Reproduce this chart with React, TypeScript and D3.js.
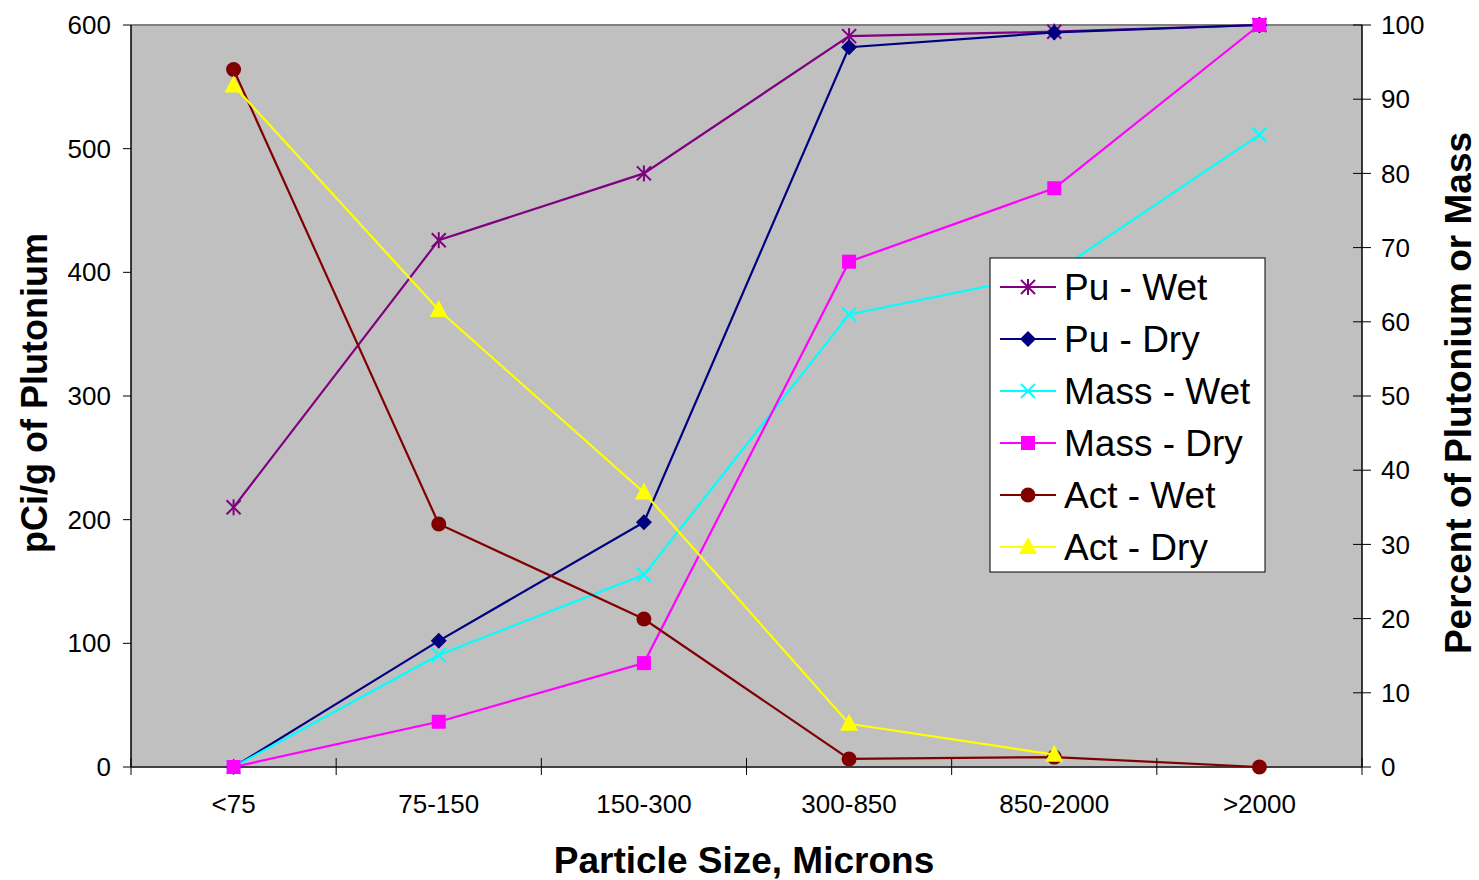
import React from 'react';
import * as d3 from 'd3';

const categories = ['<75', '75-150', '150-300', '300-850', '850-2000', '>2000'];

// percent series (right axis)
const puWet = [35, 71, 80, 98.5, 99.1, 100];
const puDry = [0, 17, 33, 97, 99, 100];
const massWet = [0, 15.1, 25.9, 61, 66.6, 85.2];
const massDry = [0, 6.1, 14, 68.1, 78, 100];
// pCi/g series (left axis)
const actWet = [564, 196.5, 119.7, 6.5, 8, 0];
const actDry: (number | null)[] = [551, 369.5, 222, 35, 10, null];

const leftTicks = [0, 100, 200, 300, 400, 500, 600];
const rightTicks = [0, 10, 20, 30, 40, 50, 60, 70, 80, 90, 100];

type Marker = 'star' | 'diamond' | 'x' | 'square' | 'circle' | 'triangle';

interface Series {
  name: string;
  values: (number | null)[];
  color: string;
  marker: Marker;
  axis: 'left' | 'right';
}

const series: Series[] = [
  { name: 'Pu - Wet', values: puWet, color: '#800080', marker: 'star', axis: 'right' },
  { name: 'Pu - Dry', values: puDry, color: '#000080', marker: 'diamond', axis: 'right' },
  { name: 'Mass - Wet', values: massWet, color: '#00FFFF', marker: 'x', axis: 'right' },
  { name: 'Mass - Dry', values: massDry, color: '#FF00FF', marker: 'square', axis: 'right' },
  { name: 'Act - Wet', values: actWet, color: '#800000', marker: 'circle', axis: 'left' },
  { name: 'Act - Dry', values: actDry, color: '#FFFF00', marker: 'triangle', axis: 'left' },
];

const plot = { left: 131, right: 1362, top: 25, bottom: 767 };
const font = 'Arial, "Liberation Sans", sans-serif';

function MarkerShape({ type, x, y, color }: { type: Marker; x: number; y: number; color: string }) {
  switch (type) {
    case 'star': {
      const s = 7;
      return (
        <g stroke={color} strokeWidth={2}>
          <line x1={x} y1={y - s - 1} x2={x} y2={y + s + 1} />
          <line x1={x - s} y1={y - s} x2={x + s} y2={y + s} />
          <line x1={x - s} y1={y + s} x2={x + s} y2={y - s} />
        </g>
      );
    }
    case 'x': {
      const s = 7;
      return (
        <g stroke={color} strokeWidth={2}>
          <line x1={x - s} y1={y - s} x2={x + s} y2={y + s} />
          <line x1={x - s} y1={y + s} x2={x + s} y2={y - s} />
        </g>
      );
    }
    case 'diamond': {
      const s = 8;
      return <path d={`M${x},${y - s}L${x + s},${y}L${x},${y + s}L${x - s},${y}Z`} fill={color} />;
    }
    case 'square':
      return <rect x={x - 7} y={y - 7} width={14} height={14} fill={color} />;
    case 'circle':
      return <circle cx={x} cy={y} r={7.5} fill={color} />;
    case 'triangle':
      return <path d={`M${x},${y - 10}L${x + 9},${y + 7}L${x - 9},${y + 7}Z`} fill={color} />;
  }
}

export default function App() {
  const x = d3.scalePoint<string>().domain(categories).range([plot.left, plot.right]).padding(0.5);
  const step = x.step();
  const yLeft = d3.scaleLinear().domain([0, 600]).range([plot.bottom, plot.top]);
  const yRight = d3.scaleLinear().domain([0, 100]).range([plot.bottom, plot.top]);

  const boundaries = d3.range(categories.length + 1).map((i) => plot.left + i * step);

  const legend = { x: 990, y: 258, w: 275, h: 314, row: 52 };

  return (
    <svg
      width={1479}
      height={880}
      style={{ position: 'absolute', left: 0, top: 0, background: '#fff' }}
      fontFamily={font}
    >
      <rect
        x={plot.left}
        y={plot.top}
        width={plot.right - plot.left}
        height={plot.bottom - plot.top}
        fill="#C0C0C0"
      />
      <line x1={plot.left} y1={plot.top} x2={plot.right} y2={plot.top} stroke="#808080" strokeWidth={2} />

      {/* left axis */}
      <line x1={plot.left} y1={plot.top} x2={plot.left} y2={plot.bottom} stroke="#000" strokeWidth={1.5} />
      {leftTicks.map((t) => (
        <g key={'l' + t}>
          <line x1={plot.left - 8} x2={plot.left} y1={yLeft(t)} y2={yLeft(t)} stroke="#000" />
          <text x={111} y={yLeft(t)} dy="0.35em" textAnchor="end" fontSize={26}>
            {t}
          </text>
        </g>
      ))}

      {/* right axis */}
      <line x1={plot.right} y1={plot.top} x2={plot.right} y2={plot.bottom} stroke="#000" strokeWidth={1.5} />
      {rightTicks.map((t) => (
        <g key={'r' + t}>
          <line x1={plot.right - 9} x2={plot.right + 9} y1={yRight(t)} y2={yRight(t)} stroke="#000" />
          <text x={1381} y={yRight(t)} dy="0.35em" textAnchor="start" fontSize={26}>
            {t}
          </text>
        </g>
      ))}

      {/* bottom axis */}
      <line x1={plot.left} y1={plot.bottom} x2={plot.right} y2={plot.bottom} stroke="#404040" strokeWidth={2} />
      {boundaries.map((b, i) => (
        <line key={'b' + i} x1={b} x2={b} y1={plot.bottom - 9} y2={plot.bottom + 8} stroke="#000" />
      ))}
      {categories.map((c) => (
        <text key={c} x={x(c)} y={813} textAnchor="middle" fontSize={26}>
          {c}
        </text>
      ))}

      {/* titles */}
      <text x={744} y={873} textAnchor="middle" fontSize={37} fontWeight="bold">
        Particle Size, Microns
      </text>
      <text
        transform="translate(47,393) rotate(-90)"
        textAnchor="middle"
        fontSize={36}
        fontWeight="bold"
      >
        pCi/g of Plutonium
      </text>
      <text
        transform="translate(1471,393) rotate(-90)"
        textAnchor="middle"
        fontSize={37}
        fontWeight="bold"
      >
        Percent of Plutonium or Mass
      </text>

      {/* series */}
      {series.map((s) => {
        const yScale = s.axis === 'left' ? yLeft : yRight;
        const pts = s.values
          .map((v, i) => (v === null ? null : ([x(categories[i]) as number, yScale(v)] as [number, number])))
          .filter((p): p is [number, number] => p !== null);
        const line = d3.line();
        return (
          <g key={s.name}>
            <path d={line(pts) || ''} fill="none" stroke={s.color} strokeWidth={2.2} />
            {pts.map((p, i) => (
              <MarkerShape key={i} type={s.marker} x={p[0]} y={p[1]} color={s.color} />
            ))}
          </g>
        );
      })}

      {/* legend */}
      <rect x={legend.x} y={legend.y} width={legend.w} height={legend.h} fill="#fff" stroke="#000" strokeWidth={1} />
      {series.map((s, i) => {
        const cy = legend.y + 29 + i * legend.row;
        return (
          <g key={'leg' + s.name}>
            <line x1={1000} x2={1056} y1={cy} y2={cy} stroke={s.color} strokeWidth={2.2} />
            <MarkerShape type={s.marker} x={1028} y={cy} color={s.color} />
            <text x={1064} y={cy} dy="0.35em" fontSize={37}>
              {s.name}
            </text>
          </g>
        );
      })}
    </svg>
  );
}
